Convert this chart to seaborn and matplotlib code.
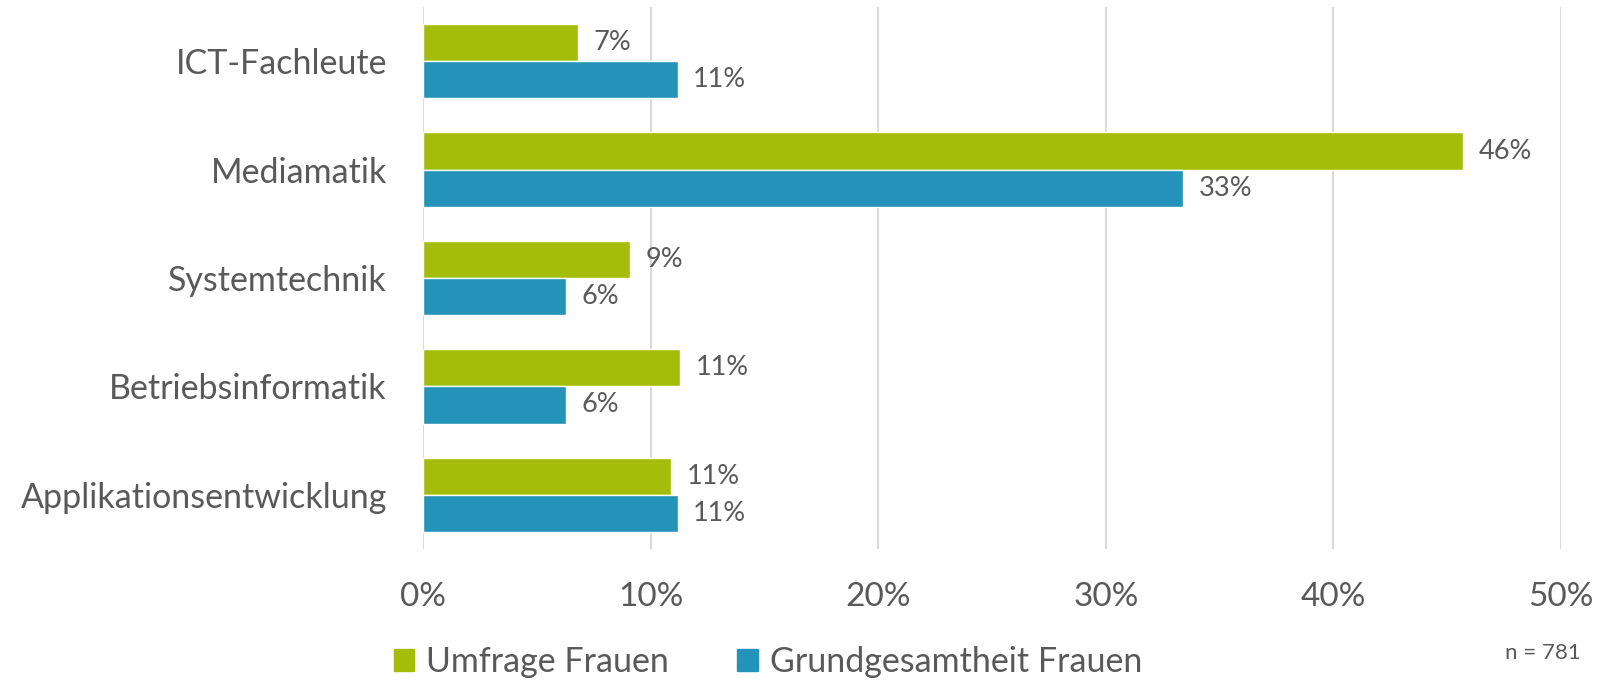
import pandas as pd
import matplotlib.pyplot as plt
import seaborn as sns

# Data
categories = ["ICT-Fachleute", "Mediamatik", "Systemtechnik",
              "Betriebsinformatik", "Applikationsentwicklung"]
umfrage = [6.8, 45.7, 9.1, 11.3, 10.9]
grundgesamtheit = [11.2, 33.4, 6.3, 6.3, 11.2]
series = ["Umfrage Frauen", "Grundgesamtheit Frauen"]
colors = ["#A4BD0A", "#2493B9"]
xticks = [0, 10, 20, 30, 40, 50]

df = pd.DataFrame({
    "Beruf": categories * 2,
    "Anteil": umfrage + grundgesamtheit,
    "Gruppe": [series[0]] * len(categories) + [series[1]] * len(categories),
})

sns.set_style("white")
plt.rcParams["font.family"] = ["Lato", "DejaVu Sans"]
text_color = "#595959"

fig = plt.figure(figsize=(16.07, 6.81), dpi=100)
ax = fig.add_axes([423 / 1607, 1 - 549 / 681, (1561 - 423) / 1607, (549 - 7) / 681])

sns.barplot(data=df, y="Beruf", x="Anteil", hue="Gruppe", order=categories,
            hue_order=series, palette=colors, orient="h", width=0.686,
            saturation=1, ax=ax, legend=False)

for cont in ax.containers:
    ax.bar_label(cont, labels=[f"{v:.0f}%" for v in cont.datavalues],
                 padding=11, fontsize=19.5, color=text_color)

ax.set_xlim(0, 50)
ax.set_ylim(4.5, -0.5)
ax.set_xticks(xticks)
ax.set_xticklabels([f"{t}%" for t in xticks])
ax.tick_params(axis="x", length=0, pad=24, labelsize=24, labelcolor=text_color)
ax.tick_params(axis="y", length=0, pad=26, labelsize=24.5, labelcolor=text_color)
ax.xaxis.grid(True, color="#D9D9D9", linewidth=1.5)
ax.set_axisbelow(True)
for s in ax.spines.values():
    s.set_visible(False)
ax.set_xlabel("")
ax.set_ylabel("")

handles = [plt.Rectangle((0, 0), 1, 1, color=c) for c in colors]
fig.legend(handles, series, loc="center left", ncol=2, frameon=False,
           bbox_to_anchor=(394 / 1607, 1 - 662 / 681), fontsize=24.5,
           labelcolor=text_color, handlelength=0.6, handleheight=0.6,
           handletextpad=0.35, columnspacing=2.0, borderpad=0, borderaxespad=0)

fig.text(1581 / 1607, 1 - 653 / 681, "n = 781", ha="right", va="center",
         fontsize=16, color=text_color)

fig.savefig("out.png", dpi=100)
